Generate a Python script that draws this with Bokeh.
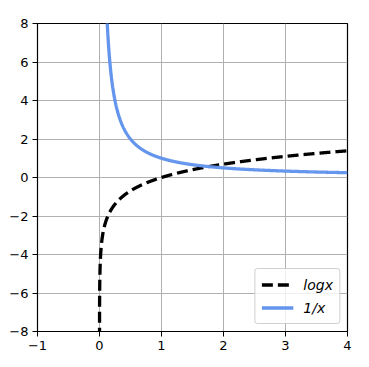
import numpy as np
from bokeh.plotting import figure
from bokeh.models import FixedTicker, Legend, LegendItem
from bokeh.embed import file_html
from bokeh.resources import INLINE

# data: the two plotted functions
x_log = np.linspace(0.0001, 4, 4000)
y_log = np.log(x_log)
x_inv = np.linspace(0.12, 4, 2000)
y_inv = 1.0 / x_inv
labels = ["logx", "1/x"]
x_ticks = [-1, 0, 1, 2, 3, 4]
y_ticks = [-8, -6, -4, -2, 0, 2, 4, 6, 8]

p = figure(width=369, height=367, x_range=(-1, 4), y_range=(-8, 8),
           output_backend="svg", toolbar_location=None,
           min_border_left=37, min_border_right=22, min_border_top=23,
           min_border_bottom=36)
p.background_fill_color = "white"
p.border_fill_color = "white"
p.outline_line_color = "black"
p.outline_line_width = 1.2

def fmt(v):
    return ("\u2212%d" % -v) if v < 0 else "%d" % v

p.xaxis.ticker = FixedTicker(ticks=x_ticks)
p.yaxis.ticker = FixedTicker(ticks=y_ticks)
p.xaxis.major_label_overrides = {v: fmt(v) for v in x_ticks}
p.yaxis.major_label_overrides = {v: fmt(v) for v in y_ticks}
for ax in (p.xaxis[0], p.yaxis[0]):
    ax.axis_line_color = "black"
    ax.major_tick_line_color = "black"
    ax.major_tick_in = 0
    ax.major_tick_out = 5
    ax.minor_tick_line_color = None
    ax.major_label_text_font = "DejaVu Sans"
    ax.major_label_text_font_size = "13px"
    ax.major_label_text_color = "black"
p.xaxis.major_label_standoff = 4
p.yaxis.major_label_standoff = 4

p.grid.grid_line_color = "#b0b0b0"
p.grid.grid_line_width = 1

r1 = p.line(x_log, y_log, line_color="black", line_width=3.3, line_dash="11 5")
r2 = p.line(x_inv, y_inv, line_color="#6495ed", line_width=3.3)

legend = Legend(items=[LegendItem(label=labels[0], renderers=[r1]),
                       LegendItem(label=labels[1], renderers=[r2])],
                location="bottom_right")
legend.label_text_font = "DejaVu Sans"
legend.label_text_font_style = "italic"
legend.label_text_font_size = "14px"
legend.label_text_color = "black"
legend.border_line_color = "#d0d0d0"
legend.border_line_alpha = 1
legend.background_fill_alpha = 0.8
legend.glyph_width = 32
legend.glyph_height = 19
legend.spacing = 4
legend.padding = 6
legend.margin = 7
legend.label_standoff = 10
legend.border_radius = 3
p.add_layout(legend)

open("out.html", "w").write(file_html(p, INLINE))
